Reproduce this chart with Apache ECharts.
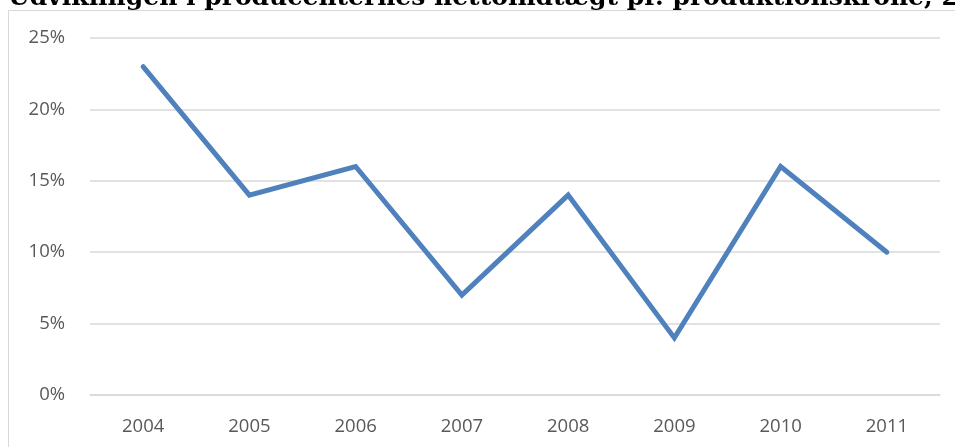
<!DOCTYPE html>
<html><head><meta charset="utf-8">
<script src="https://cdn.jsdelivr.net/npm/echarts@6/dist/echarts.min.js"></script>
<style>html,body{margin:0;padding:0;background:#fff;}#c{width:955px;height:447px;}</style>
</head><body><div id="c"></div>
<script>
const titleText = 'Udviklingen i producenternes nettoindtægt pr. produktionskrone, 2004-2011';
const years = ['2004','2005','2006','2007','2008','2009','2010','2011'];
const values = [23, 14, 16, 7, 14, 4, 16, 10];
const chart = echarts.init(document.getElementById('c'));
chart.setOption({
  animation: false,
  backgroundColor: '#fff',
  title: {
    text: titleText, left: 3, top: -19.5,
    textStyle: {fontFamily: 'DejaVu Serif', fontWeight: 'bold', fontSize: 25, color: '#000'}
  },
  graphic: [{
    type: 'rect', shape: {x: 8.5, y: 10.5, width: 960, height: 450},
    style: {fill: 'none', stroke: '#d9d9d9', lineWidth: 1}, z: -1
  }],
  grid: {left: 90, right: 15, top: 38, bottom: 52},
  xAxis: {
    type: 'category', data: years, boundaryGap: true,
    axisLine: {show: true, lineStyle: {color: '#d9d9d9', width: 1.5}},
    axisTick: {show: false},
    axisLabel: {margin: 22, fontFamily: 'Open Sans', fontSize: 18.5, color: '#595959'}
  },
  yAxis: {
    type: 'value', min: 0, max: 25, interval: 5,
    axisLine: {show: false}, axisTick: {show: false},
    splitLine: {lineStyle: {color: '#d9d9d9', width: 1.5}},
    axisLabel: {formatter: '{value}%', margin: 25, fontFamily: 'Open Sans', fontSize: 18.5, color: '#595959'}
  },
  series: [{
    type: 'line', data: values, symbol: 'none',
    lineStyle: {color: '#4f81bd', width: 5, cap: 'round', join: 'miter'}
  }]
});
</script></body></html>
